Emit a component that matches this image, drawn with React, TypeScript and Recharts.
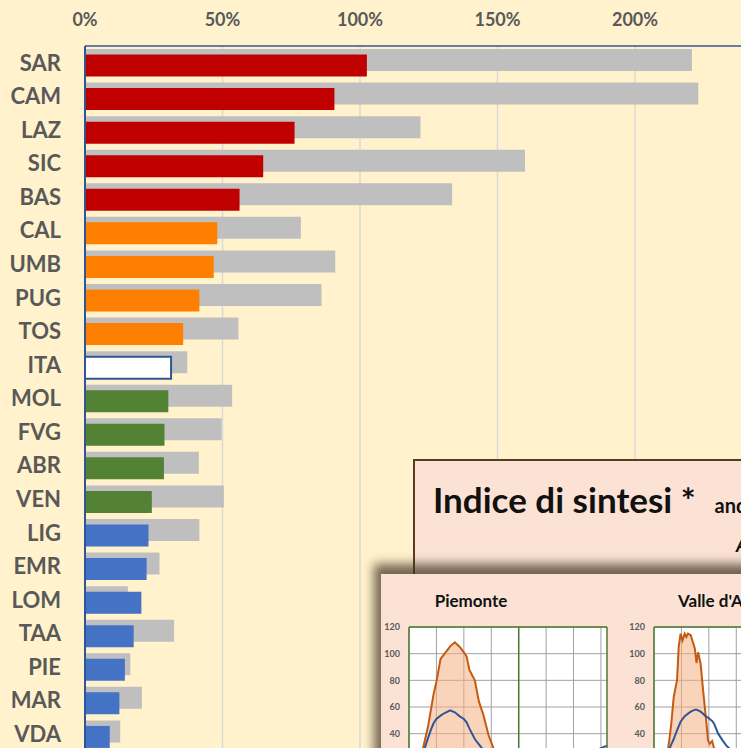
import { BarChart, Bar, XAxis, YAxis, CartesianGrid, Cell, ComposedChart, Area, Line, ReferenceLine } from 'recharts';

const BG = '#FFF2CC';
const PEACH = '#FBE2D5';
const TEXT = '#595959';
const AXIS_BLUE = '#2F5597';
const FONT = 'Lato, "Open Sans", sans-serif';

// main bar chart
const regioni = ['SAR', 'CAM', 'LAZ', 'SIC', 'BAS', 'CAL', 'UMB', 'PUG', 'TOS', 'ITA', 'MOL', 'FVG', 'ABR', 'VEN', 'LIG', 'EMR', 'LOM', 'TAA', 'PIE', 'MAR', 'VDA'];
const valoriMassimi = [220.7, 223, 122, 160, 133.5, 78.5, 91, 86, 55.8, 37.2, 53.5, 49.7, 41.4, 50.5, 41.6, 27.1, 15.6, 32.4, 16.5, 20.7, 12.8];
const valoriAttuali = [102.5, 90.7, 76.2, 64.8, 56.2, 48.1, 46.8, 41.6, 35.7, 31.3, 30.3, 28.9, 28.7, 24.3, 23.1, 22.4, 20.5, 17.7, 14.5, 12.5, 9];
const fasce = ['rossa', 'rossa', 'rossa', 'rossa', 'rossa', 'arancione', 'arancione', 'arancione', 'arancione', 'italia', 'verde', 'verde', 'verde', 'verde', 'blu', 'blu', 'blu', 'blu', 'blu', 'blu', 'blu'];
const tickPercentuali = [0, 50, 100, 150, 200];

const COLORI_FASCIA: Record<string, string> = {
  rossa: '#C00000',
  arancione: '#FF8000',
  italia: '#FFFFFF',
  verde: '#548235',
  blu: '#4472C4',
};

// mini charts (x in months, y index)
const miniTickY = [0, 20, 40, 60, 80, 100, 120];
const miniGrigliaY = [0, 10, 20, 30, 40, 50, 60, 70, 80, 90, 100, 110, 120];
const miniGrigliaX = [0, 1, 2, 3, 4, 5, 6, 7];
const MINI_X_MAX = 7.22;

const piemonteX = [0, 0.3, 0.5, 0.6, 0.7, 0.8, 0.9, 1.0, 1.15, 1.3, 1.5, 1.67, 1.85, 2.0, 2.1, 2.2, 2.4, 2.55, 2.7, 2.9, 3.1, 3.4, 3.8, 4.3, 5.0, 5.7, 6.4, 7.22];
const piemonteArancio = [2, 12, 28, 37, 46, 58, 70, 79, 96, 100, 105.5, 108.5, 105, 101, 98, 88, 80, 64, 55, 39, 28, 22, 18, 17, 19, 22, 25, 24];
const piemonteBlu = [1, 8, 22, 31, 37, 43, 48, 51, 53.5, 55.5, 57.5, 56, 53, 51, 48.5, 44, 36, 32, 28, 24, 20, 17, 15, 14, 15, 18, 24, 31];

const valleX = [0, 0.3, 0.5, 0.57, 0.63, 0.72, 0.8, 0.84, 0.9, 0.97, 1.04, 1.12, 1.18, 1.24, 1.34, 1.49, 1.55, 1.61, 1.7, 1.79, 1.89, 1.97, 2.03, 2.12, 2.19, 2.34, 2.5, 2.64, 3.0, 3.5, 4.3, 5.0, 6.0, 7.22];
const valleArancio = [2, 10, 27, 37, 47.5, 67.5, 76, 80, 105, 115, 110, 115, 112.5, 115, 113.8, 103.8, 93, 101, 92.5, 72.5, 52.5, 35, 32.5, 34.5, 29, 24, 20, 17, 14, 12, 12, 14, 18, 20];
const valleBlu = [1, 8, 24, 29, 32, 36, 40.5, 42.5, 45.5, 49, 51, 53, 54, 55, 56.5, 58, 58, 57.5, 56.5, 55, 53, 52, 51, 49.5, 47.5, 40, 35, 31, 24, 18, 14, 13, 15, 18];

const dati = regioni.map((r, i) => ({
  regione: r,
  massimo: valoriMassimi[i],
  attuale: valoriAttuali[i],
  fascia: fasce[i],
}));

function costruisci(xs: number[], arancio: number[], blu: number[]) {
  return xs.map((x, i) => ({ x, arancio: arancio[i], blu: blu[i] }));
}

function MiniGrafico({ data, left, top }: { data: { x: number; arancio: number; blu: number }[]; left: number; top: number }) {
  return (
    <div style={{ position: 'absolute', left, top }}>
      <ComposedChart width={231} height={180} data={data} margin={{ top: 10, right: 5, bottom: 10, left: 0 }}>
        <CartesianGrid fill="#FFFFFF" stroke="#A0A0A0" strokeWidth={1} horizontalValues={miniGrigliaY} verticalValues={miniGrigliaX} />
        <XAxis type="number" dataKey="x" domain={[0, MINI_X_MAX]} allowDataOverflow hide />
        <YAxis
          type="number"
          domain={[0, 120]}
          ticks={miniTickY}
          width={28}
          axisLine={false}
          tickLine={false}
          tickSize={0}
          tickMargin={9}
          tick={{ fill: TEXT, fontSize: 9, fontWeight: 700, fontFamily: FONT }}
        />
        <Area type="linear" dataKey="arancio" stroke="#C55A11" strokeWidth={2} fill="#F4B183" fillOpacity={0.55} dot={false} isAnimationActive={false} />
        <Line type="linear" dataKey="blu" stroke="#2F5597" strokeWidth={2} dot={false} isAnimationActive={false} />
        <ReferenceLine x={4} stroke="#4E7A2E" strokeWidth={1.5} />
        <ReferenceLine x={0} stroke="#4E7A2E" strokeWidth={1.5} />
        <ReferenceLine x={MINI_X_MAX} stroke="#4E7A2E" strokeWidth={1.5} />
        <ReferenceLine y={120} stroke="#4E7A2E" strokeWidth={1.5} />
      </ComposedChart>
    </div>
  );
}

export default function App() {
  return (
    <div style={{ position: 'absolute', left: 0, top: 0, width: 741, height: 748, overflow: 'hidden', background: BG, fontFamily: FONT }}>
      <BarChart
        width={780}
        height={751}
        data={dati}
        layout="vertical"
        margin={{ top: 0, right: 7.5, bottom: 0, left: 0 }}
        barSize={22}
        barGap={-16.5}
      >
        <CartesianGrid horizontal={false} stroke="#D9D9D9" strokeWidth={1.5} verticalValues={[50, 100, 150, 200, 250]} />
        <XAxis
          type="number"
          orientation="top"
          domain={[0, 250]}
          ticks={tickPercentuali}
          tickFormatter={(v) => `${v}%`}
          axisLine={{ stroke: AXIS_BLUE, strokeWidth: 1.5 }}
          tickLine={false}
          tickSize={20}
          tickMargin={0}
          height={46}
          tick={{ fill: TEXT, fontSize: 18, fontWeight: 700, fontFamily: FONT }}
        />
        <YAxis
          type="category"
          dataKey="regione"
          width={85}
          interval={0}
          axisLine={{ stroke: AXIS_BLUE, strokeWidth: 2 }}
          tickLine={false}
          tickSize={6}
          tickMargin={18}
          tick={{ fill: TEXT, fontSize: 22, fontWeight: 700, fontFamily: FONT }}
        />
        <Bar dataKey="massimo" fill="#BFBFBF" isAnimationActive={false} />
        <Bar dataKey="attuale" isAnimationActive={false}>
          {dati.map((d, i) => (
            <Cell
              key={i}
              fill={COLORI_FASCIA[d.fascia]}
              stroke={d.fascia === 'italia' ? AXIS_BLUE : 'none'}
              strokeWidth={2}
            />
          ))}
        </Bar>
      </BarChart>

      {/* outer inset box */}
      <div
        style={{
          position: 'absolute',
          left: 413,
          top: 459,
          width: 400,
          height: 400,
          background: PEACH,
          border: '2px solid #5A3B1F',
          boxSizing: 'border-box',
        }}
      />
      <div style={{ position: 'absolute', left: 433, top: 482, fontSize: 35, fontWeight: 700, lineHeight: 1, color: '#111', whiteSpace: 'nowrap' }}>
        Indice di sintesi *
        <span style={{ fontSize: 20, marginLeft: 19 }}>andamento</span>
      </div>
      <div style={{ position: 'absolute', left: 736, top: 534, fontSize: 20, fontWeight: 700, fontStyle: 'italic', lineHeight: 1, color: '#111' }}>
        A
      </div>

      {/* inner box with the small charts */}
      <div
        style={{
          position: 'absolute',
          left: 381,
          top: 574,
          width: 400,
          height: 220,
          background: PEACH,
          boxShadow: '-7px -10px 10px rgba(70,55,40,0.75)',
        }}
      />
      <div style={{ position: 'absolute', left: 371, top: 592, width: 200, textAlign: 'center', fontSize: 17, fontWeight: 700, lineHeight: 1, color: '#111' }}>
        Piemonte
      </div>
      <div style={{ position: 'absolute', left: 678, top: 592, fontSize: 17, fontWeight: 700, lineHeight: 1, color: '#111', whiteSpace: 'nowrap' }}>
        Valle d'Aosta
      </div>
      <MiniGrafico data={costruisci(piemonteX, piemonteArancio, piemonteBlu)} left={381.3} top={616.7} />
      <MiniGrafico data={costruisci(valleX, valleArancio, valleBlu)} left={626.3} top={616.7} />
    </div>
  );
}
